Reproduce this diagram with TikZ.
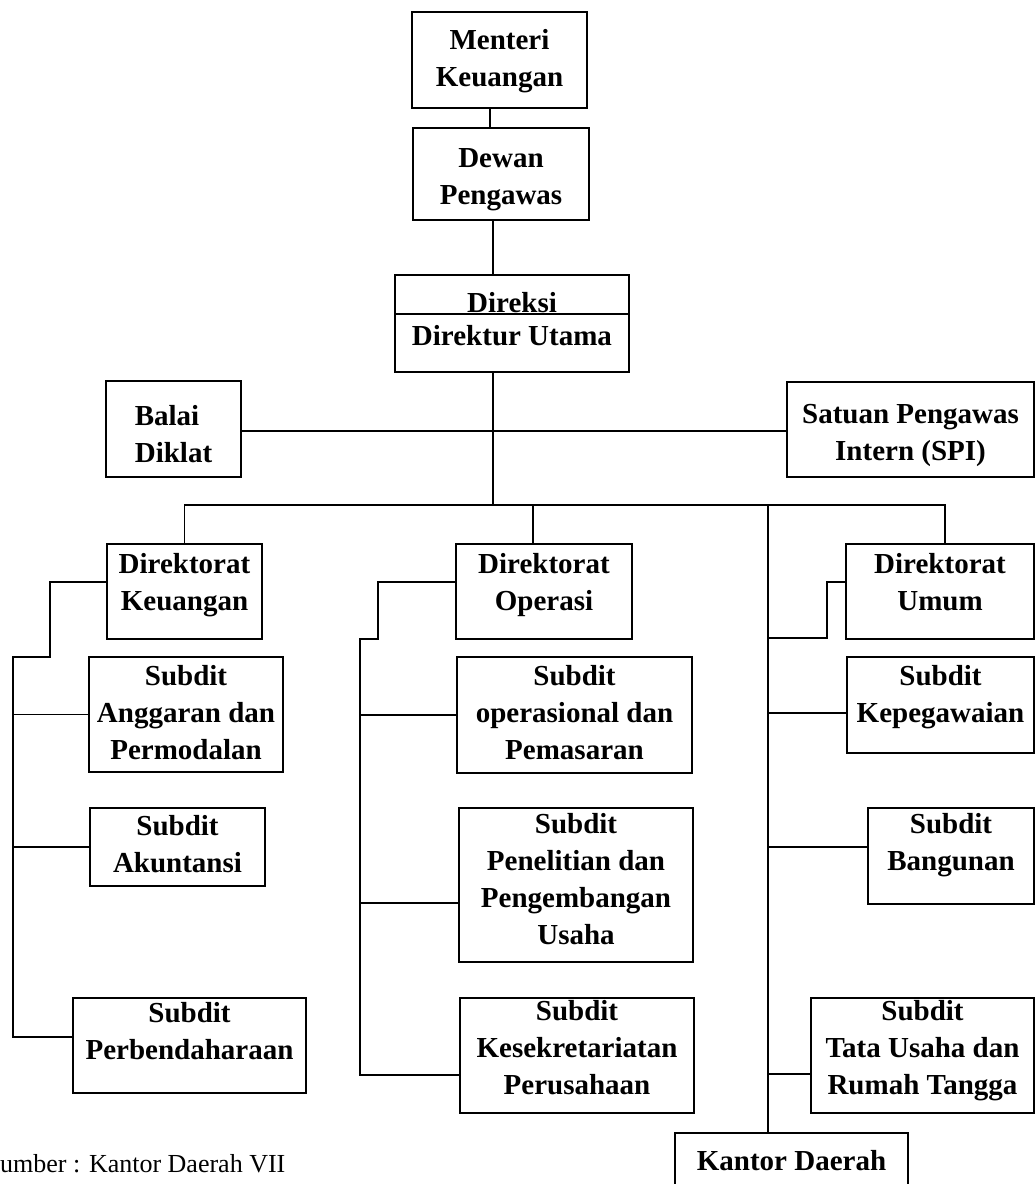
\documentclass[tikz,border=0pt]{standalone}
\usepackage{fontspec}
\setmainfont{Liberation Serif}
\usepackage{tikz}
\usetikzlibrary{calc}
\tikzset{
    kotak/.style={
        rectangle,
        draw,
        line width=1.6pt,
        inner sep=0pt,
        align=center,
        font=\bfseries\fontsize{29}{37}\selectfont
    },
    kotakTebal/.style={kotak, line width=2.4pt},
    kotakKiri/.style={kotak, align=left},
    ukuran/.style n args={3}{minimum width=#1, text height=#2, text depth=#3},
    garis/.style={line width=1.4pt},
    keterangan/.style={inner sep=0pt, anchor=base west, font=\fontsize{26}{30}\selectfont}
}

\begin{document}
\begin{tikzpicture}[x=1pt, y=-1pt]
    \useasboundingbox (0,0) rectangle (1036,1184);
    \clip (0,0) rectangle (1036,1184);

    \node[kotak, ukuran={175pt}{74pt}{22pt}] (menteri) at (499.5,60) {Menteri\\Keuangan};
    \node[kotak, ukuran={176pt}{76pt}{16pt}] (dewan) at (501,174) {Dewan\\Pengawas};
    \node[kotakTebal, ukuran={234pt}{37pt}{2pt}] (direksi) at (512,294.5) {Direksi};
    \node[kotakTebal, ukuran={234pt}{31pt}{27pt}] (dirut) at (512,343) {Direktur Utama};
    \node[kotakKiri, ukuran={135pt}{81pt}{15pt}] (balai) at (173.5,429) {Balai\\Diklat};
    \node[kotak, ukuran={247pt}{78pt}{17pt}] (spi) at (910.5,429.5) {Satuan Pengawas\\Intern (SPI)};

    \node[kotak, ukuran={155pt}{66pt}{29pt}] (dkeu) at (184.5,591.5) {Direktorat\\Keuangan};
    \node[kotak, ukuran={176pt}{66pt}{29pt}] (dops) at (544,591.5) {Direktorat\\Operasi};
    \node[kotak, ukuran={188pt}{66pt}{29pt}] (dumum) at (940,591.5) {Direktorat\\Umum};

    \node[kotak, ukuran={194pt}{102pt}{13pt}] (sang) at (186,714.5) {Subdit\\Anggaran dan\\Permodalan};
    \node[kotak, ukuran={175pt}{64pt}{14pt}] (sakun) at (177.5,847) {Subdit\\Akuntansi};
    \node[kotak, ukuran={233pt}{61pt}{34pt}] (sbend) at (189.5,1045.5) {Subdit\\Perbendaharaan};

    \node[kotak, ukuran={235pt}{102pt}{14pt}] (sops) at (574.5,715) {Subdit\\operasional dan\\Pemasaran};
    \node[kotak, ukuran={234pt}{136pt}{18pt}] (spenel) at (576,885) {Subdit\\Penelitian dan\\Pengembangan\\Usaha};
    \node[kotak, ukuran={234pt}{96pt}{19pt}] (ssekr) at (577,1055.5) {Subdit\\Kesekretariatan\\Perusahaan};

    \node[kotak, ukuran={187pt}{65pt}{31pt}] (skepeg) at (940.5,705) {Subdit\\Kepegawaian};
    \node[kotak, ukuran={166pt}{62pt}{34pt}] (sbang) at (951,856) {Subdit\\Bangunan};
    \node[kotak, ukuran={223pt}{96pt}{19pt}] (stata) at (922.5,1055.5) {Subdit\\Tata Usaha dan\\Rumah Tangga};

    \node[kotak, ukuran={233pt}{37pt}{43pt}] (kantor) at (791.5,1173) {Kantor Daerah};
    \node[keterangan] (sumber) at (0,1172) {umber : Kantor Daerah VII};

    \coordinate (pusat) at (493,505);
    \coordinate (jalur) at (768,505);
    \coordinate (keuTekuk) at (50,657);
    \coordinate (keuKiri) at (13,657);
    \coordinate (opsTekuk) at (378,639);
    \coordinate (opsKiri) at (360,639);
    \coordinate (umumTekuk) at (827,638);

    \draw[garis] ([xshift=-9.5pt]menteri.south) -- ([xshift=-9.5pt]menteri.south |- dewan.north);
    \draw[garis] ([xshift=-8pt]dewan.south) -- ([xshift=-8pt]dewan.south |- direksi.north);
    \draw[garis] (dirut.south -| pusat) -- (pusat);
    \draw[garis] ([yshift=-2pt]balai.east) -- ([yshift=-2pt]balai.east -| spi.west);
    \draw[garis] (dkeu.north) |- (pusat) -| ([xshift=5pt]dumum.north);
    \draw[garis] ([xshift=-11pt]dops.north) -- ([xshift=-11pt]dops.north |- pusat);
    \draw[garis] (jalur) -- (jalur |- kantor.north);

    \draw[garis] ([yshift=9.5pt]dkeu.west) -| (keuTekuk) -- (keuKiri) |- ([yshift=8.5pt]sbend.west);
    \draw[garis] (sang.west) -- (sang.west -| keuKiri);
    \draw[garis] (sakun.west) -- (sakun.west -| keuKiri);

    \draw[garis] ([yshift=9.5pt]dops.west) -| (opsTekuk) -- (opsKiri) |- ([yshift=-19.5pt]ssekr.west);
    \draw[garis] (sops.west) -- (sops.west -| opsKiri);
    \draw[garis] ([yshift=-18pt]spenel.west) -- ([yshift=-18pt]spenel.west -| opsKiri);

    \draw[garis] ([yshift=9.5pt]dumum.west) -| (umumTekuk) -- (umumTekuk -| jalur);
    \draw[garis] ([yshift=-8pt]skepeg.west) -- ([yshift=-8pt]skepeg.west -| jalur);
    \draw[garis] ([yshift=9pt]sbang.west) -- ([yshift=9pt]sbang.west -| jalur);
    \draw[garis] ([yshift=-18.5pt]stata.west) -- ([yshift=-18.5pt]stata.west -| jalur);
\end{tikzpicture}
\end{document}
